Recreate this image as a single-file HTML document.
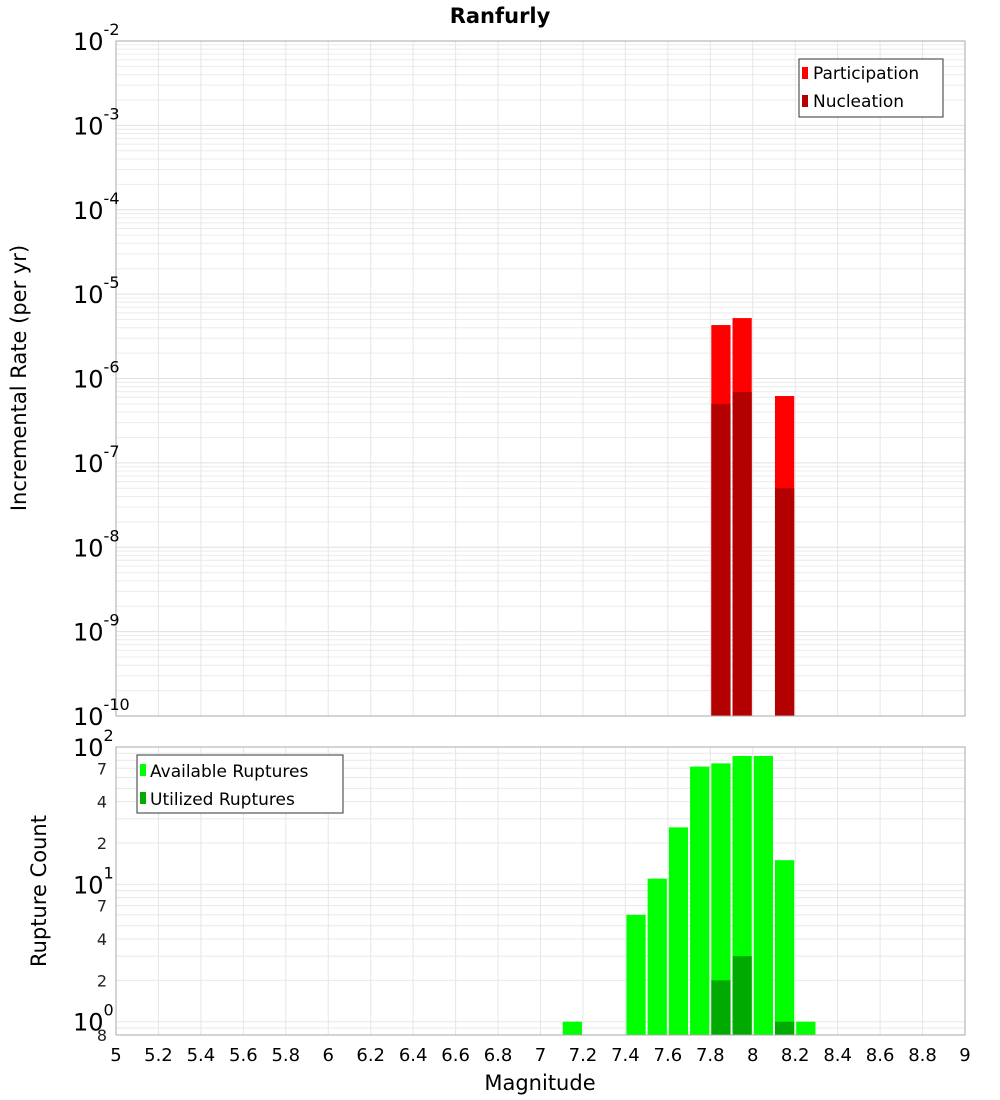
<!DOCTYPE html>
<html><head><meta charset="utf-8"><style>
body{margin:0;background:#fff;}
svg{display:block;font-family:"DejaVu Sans","Liberation Sans",sans-serif;}
</style></head><body>
<svg id="chart" width="1000" height="1100" viewBox="0 0 1000 1100" xmlns="http://www.w3.org/2000/svg">
<text x="500" y="23" text-anchor="middle" font-size="21" font-weight="bold">Ranfurly</text>
<g id="topPlot"></g>
<g id="botPlot"></g>
<text transform="translate(26,378) rotate(-90)" text-anchor="middle" font-size="21">Incremental Rate (per yr)</text>
<text transform="translate(46,891) rotate(-90)" text-anchor="middle" font-size="21">Rupture Count</text>
<text x="540" y="1090" text-anchor="middle" font-size="21">Magnitude</text>
<g>
<rect x="799" y="59" width="144" height="58" fill="#fff" stroke="#333" stroke-width="1"/>
<rect x="802" y="67" width="6" height="12" fill="#ff0000"/>
<text x="813" y="79" font-size="17">Participation</text>
<rect x="802" y="95" width="6" height="12" fill="#b30000"/>
<text x="813" y="107" font-size="17">Nucleation</text>
</g>
<g>
<rect x="137" y="755" width="206" height="58" fill="#fff" stroke="#333" stroke-width="1"/>
<rect x="140" y="764" width="6" height="12" fill="#00ff00"/>
<text x="150" y="777" font-size="17">Available Ruptures</text>
<rect x="140" y="792" width="6" height="12" fill="#00aa00"/>
<text x="150" y="805" font-size="17">Utilized Ruptures</text>
</g>
</svg>
<script>
const binCenters=[7.15,7.45,7.55,7.65,7.75,7.85,7.95,8.05,8.15,8.25];
const availableCounts=[1,6,11,26,72,76,86,86,15,1];
const utilizedCounts=[0,0,0,0,0,2,3,0,1,0];
const rateMags=[7.85,7.95,8.15];
const participationRates=[4.3e-6,5.2e-6,6.2e-7];
const nucleationRates=[5.0e-7,6.9e-7,5.0e-8];
const xTicks=[5,5.2,5.4,5.6,5.8,6,6.2,6.4,6.6,6.8,7,7.2,7.4,7.6,7.8,8,8.2,8.4,8.6,8.8,9];
const xTickLabels=["5","5.2","5.4","5.6","5.8","6","6.2","6.4","6.6","6.8","7","7.2","7.4","7.6","7.8","8","8.2","8.4","8.6","8.8","9"];
const rateExps=[-2,-3,-4,-5,-6,-7,-8,-9,-10];
const countMinorLabels=[[70,"7"],[40,"4"],[20,"2"],[7,"7"],[4,"4"],[2,"2"],[0.8,"8"]];

const NS="http://www.w3.org/2000/svg";
const L=116,R=965,T1=41,B1=716,T2=747,B2=1035;
const X=m=>L+(m-5)/(9-5)*(R-L);
const Y1=v=>T1+(-2-Math.log10(v))/8*(B1-T1);
const cMin=0.8,cMax=100;
const Y2=v=>T2+(Math.log10(cMax)-Math.log10(v))/(Math.log10(cMax)-Math.log10(cMin))*(B2-T2);
function el(p,t,a){const e=document.createElementNS(NS,t);for(const k in a)e.setAttribute(k,a[k]);p.appendChild(e);return e;}
const gTop=document.getElementById('topPlot'),gBot=document.getElementById('botPlot');

for(let e=-10;e<-2;e++){for(let k=1;k<10;k++){const v=k*Math.pow(10,e);const y=Y1(v);
 const g=el(gTop,'line',{x1:L,x2:R,y1:y,y2:y,stroke:k==1?'#e0e0e0':'#ececec','stroke-width':1});
 
 }}
for(const t of xTicks){for(const [g,yA,yB] of [[gTop,T1,B1],[gBot,T2,B2]]){
 const l=el(g,'line',{x1:X(t),x2:X(t),y1:yA,y2:yB,stroke:'#e6e6e6','stroke-width':1});
 
 }}
for(let e=-1;e<2;e++){for(let k=1;k<10;k++){const v=k*Math.pow(10,e);if(v<cMin)continue;const y=Y2(v);
 const g=el(gBot,'line',{x1:L,x2:R,y1:y,y2:y,stroke:'#e8e8e8','stroke-width':1});
 
 }}

const bw=(X(0.1)-X(0));
rateMags.forEach((m,i)=>{
 const x=X(m-0.05)+1,w=bw-2;
 let r=el(gTop,'rect',{x:x,y:Y1(participationRates[i]),width:w,height:B1-Y1(participationRates[i]),fill:'#ff0000'});
 
 
 r=el(gTop,'rect',{x:x,y:Y1(nucleationRates[i]),width:w,height:B1-Y1(nucleationRates[i]),fill:'#b30000'});
 
 
});
binCenters.forEach((m,i)=>{
 const x=X(m-0.05)+1,w=bw-2;
 let r=el(gBot,'rect',{x:x,y:Y2(availableCounts[i]),width:w,height:B2-Y2(availableCounts[i]),fill:'#00ff00'});
 
 
 if(utilizedCounts[i]>0){
 r=el(gBot,'rect',{x:x,y:Y2(utilizedCounts[i]),width:w,height:B2-Y2(utilizedCounts[i]),fill:'#00aa00'});
 
 }
});
el(gTop,'rect',{x:L,y:T1,width:R-L,height:B1-T1,fill:'none',stroke:'#aaa','stroke-width':1});
el(gBot,'rect',{x:L,y:T2,width:R-L,height:B2-T2,fill:'none',stroke:'#aaa','stroke-width':1});

rateExps.forEach(e=>{const y=Y1(Math.pow(10,e));
 const t=el(gTop,'text',{x:73,y:y+9,'font-size':24});
 
 
 t.innerHTML='10<tspan dy="-15" font-size="16">'+e+'</tspan>';});
[[100,"2"],[10,"1"],[1,"0"]].forEach(([v,s])=>{const y=Y2(v);
 const t=el(gBot,'text',{x:73,y:y+9,'font-size':24});
 
 
 t.innerHTML='10<tspan dy="-15" font-size="16">'+s+'</tspan>';});
countMinorLabels.forEach(([v,s])=>{const y=Y2(v);
 const t=el(gBot,'text',{x:107,y:y+6,'text-anchor':'end','font-size':16,fill:'#222'});
 
 
 t.textContent=s;});
xTicks.forEach((v,i)=>{
 const t=el(gBot,'text',{x:X(v),y:1061,'text-anchor':'middle','font-size':18});
 
 
 t.textContent=xTickLabels[i];});
</script>
</body></html>
